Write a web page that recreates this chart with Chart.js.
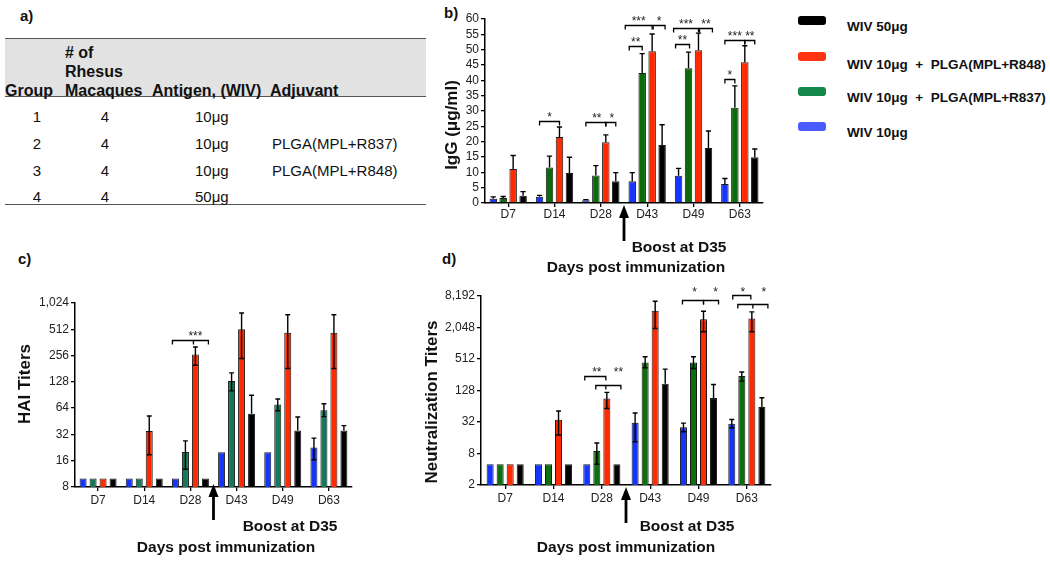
<!DOCTYPE html>
<html lang="en">
<head>
<meta charset="UTF-8" />
<title>WIV antibody responses in rhesus macaques</title>
<script src="https://cdn.jsdelivr.net/npm/chart.js"></script>
<style>
  body {
    margin: 0;
    width: 1050px;
    height: 563px;
    position: relative;
    overflow: hidden;
    background: #fff;
    font-family: 'Liberation Sans', Arial, sans-serif;
    color: #111;
  }
  .abs { position: absolute; white-space: pre; }
  .panel { position: absolute; font-weight: bold; font-size: 15px; }
  .th { font-weight: bold; font-size: 16px; line-height: 19px; }
  .td { font-size: 15px; line-height: 18px; }
  .rule { position: absolute; left: 5px; width: 421px; border-top: 1.5px solid #555; }
  .shade { position: absolute; left: 5px; top: 39px; width: 421px; height: 58px; background: #e2e2e2; }
  .swatch { position: absolute; left: 798px; width: 28px; height: 9px; border-radius: 3px; }
  .legtext { position: absolute; left: 847px; font-weight: bold; font-size: 13.5px; line-height: 16px; white-space: pre; }
  canvas { position: absolute; }
</style>
</head>
<body>
  <!-- panel letters -->
  <div class="panel" style="left:20px; top:7px;">a)</div>
  <div class="panel" style="left:444px; top:4px;">b)</div>
  <div class="panel" style="left:18px; top:250px;">c)</div>
  <div class="panel" style="left:442px; top:250px;">d)</div>

  <!-- a) table -->
  <div class="shade"></div>
  <div class="rule" style="top:38px;"></div>
  <div class="rule" style="top:96px;"></div>
  <div class="rule" style="top:204px;"></div>
  <div id="table"></div>

  <!-- legend -->
  <div id="legend"></div>

  <canvas id="iggChart" width="380" height="280" style="left:400px; top:0px;"></canvas>
  <canvas id="haiChart" width="380" height="283" style="left:0px; top:280px;"></canvas>
  <canvas id="neutChart" width="380" height="283" style="left:420px; top:280px;"></canvas>

<script>
  // ---- data ----
  const days = ['D7', 'D14', 'D28', 'D43', 'D49', 'D63'];
  const groups = ['WIV 10μg', 'WIV 10μg  +  PLGA(MPL+R837)', 'WIV 10μg  +  PLGA(MPL+R848)', 'WIV 50μg'];

  // table a)
  const tableGroup = ['1', '2', '3', '4'];
  const tableMacaques = ['4', '4', '4', '4'];
  const tableAntigen = ['10μg', '10μg', '10μg', '50μg'];
  const tableAdjuvant = ['', 'PLGA(MPL+R837)', 'PLGA(MPL+R848)', ''];

  // b) IgG (μg/ml), one row per group, one column per day
  const iggMean = [
    [1.4, 2.0, 0.9, 7.1, 8.9, 6.2],
    [1.6, 11.6, 9.0, 42.4, 43.9, 31.1],
    [11.1, 21.5, 19.8, 49.5, 49.8, 45.9],
    [2.4, 9.8, 7.1, 18.9, 17.9, 14.9]
  ];
  const iggHigh = [
    [2.0, 2.5, 1.1, 9.9, 11.3, 8.0],
    [2.1, 15.3, 12.2, 48.7, 49.2, 38.2],
    [15.5, 24.8, 22.2, 55.1, 55.4, 51.3],
    [3.7, 14.9, 9.9, 25.5, 23.5, 17.6]
  ];
  const iggTicks = [0, 5, 10, 15, 20, 25, 30, 35, 40, 45, 50, 55, 60];

  // c) HAI titers
  const haiMean = [
    [10, 10, 10, 20, 20, 22.7],
    [10, 10, 20.1, 131, 70.6, 60.4],
    [10, 35.1, 263, 512, 468, 468],
    [10, 10, 10, 55.3, 35.4, 35.4]
  ];
  const haiHigh = [
    [null, null, null, null, null, 29],
    [null, null, 27, 162, 81.4, 72],
    [null, 52, 321, 787, 750, 750],
    [null, null, null, 90, 50.7, 40.4]
  ];
  const haiLow = [
    [null, null, null, null, null, 16.4],
    [null, null, 12.8, 101, 59.8, 51.2],
    [null, 18.7, 198, 237, 182, 182],
    [null, null, null, null, null, null]
  ];
  const haiTicks = [8, 16, 32, 64, 128, 256, 512, 1024];

  // d) neutralization titers
  const neutMean = [
    [5, 5, 5, 31, 25.3, 29.6],
    [5, 5, 8.9, 440, 440, 241],
    [5, 35.4, 90.4, 4260, 2955, 3040],
    [5, 5, 5, 172, 91.6, 61.8]
  ];
  const neutHigh = [
    [null, null, null, 47.4, 30.5, 35.8],
    [null, null, 12.7, 564, 564, 288],
    [null, 51.8, 118, 6520, 4200, 4080],
    [null, null, null, 328, 167, 93]
  ];
  const neutLow = [
    [null, null, null, 13.4, 20.9, 24.9],
    [null, null, 5.0, 348, 338, 193],
    [null, 18.0, 58, 1963, 1697, 1697],
    [null, null, null, null, null, null]
  ];
  const neutTicks = [2, 8, 32, 128, 512, 2048, 8192];

  // significance: [day, from bar, to bar, middle tick bar, bracket value, stars, stars at bar, stars value]
  const iggSig = [
    [1, 0, 2, null, 26.6, '*', 1, null],
    [2, 0, 2, null, 26.4, '**', 1.1, null],
    [2, 2, 3, null, 26.4, '*', 2.6, null],
    [3, -0.3, 1, null, 51.1, '**', 0.35, null],
    [3, -0.7, 2, null, 57.9, '***', 0.65, null],
    [3, 2.1, 3.3, null, 57.9, '*', 2.7, null],
    [4, -0.3, 1.1, null, 51.8, '**', 0.4, null],
    [4, -0.5, 2, null, 57.1, '***', 0.75, null],
    [4, 2.1, 3.4, null, 57.1, '**', 2.75, null],
    [5, 0, 1, null, 40.5, '*', 0.5, null],
    [5, 0, 2, null, 53.3, '***', 1, null],
    [5, 2, 3, null, 53.3, '**', 2.5, null]
  ];
  const haiSig = [
    [2, -0.3, 3.3, 1.8, 383, '***', 2, null]
  ];
  const neutSig = [
    [2, -0.2, 1.9, null, 244, '**', 1, null],
    [2, 0.9, 3.4, 1.9, 162, '**', 3.15, 314],
    [4, -0.1, 2, null, 6800, '*', 1.1, 10580],
    [4, 2, 3.5, null, 6800, '*', 3.2, 10580],
    [5, 0.1, 1.9, null, 8480, '*', 1.1, 10580],
    [5, 0.6, 3.6, 2.1, 5710, '*', 3.2, 10580]
  ];

  // ---- table + legend ----
  const tbl = document.getElementById('table');
  function put(cls, text, left, centerY, lh, align) {
    const d = document.createElement('div');
    d.className = 'abs ' + cls;
    d.textContent = text;
    d.style.left = left + 'px';
    d.style.top = (centerY - lh / 2) + 'px';
    if (align === 'center') d.style.transform = 'translateX(-50%)';
    tbl.appendChild(d);
  }
  put('th', '# of', 65, 52, 19);
  put('th', 'Rhesus', 65, 71, 19);
  put('th', 'Group', 5, 90, 19);
  put('th', 'Macaques', 65, 90, 19);
  put('th', 'Antigen, (WIV)', 152, 90, 19);
  put('th', 'Adjuvant', 270, 90, 19);
  const rowY = [117, 144, 171, 197];
  tableGroup.forEach((g, i) => {
    put('td', g, 37, rowY[i], 18, 'center');
    put('td', tableMacaques[i], 105, rowY[i], 18, 'center');
    put('td', tableAntigen[i], 195, rowY[i], 18);
    put('td', tableAdjuvant[i], 272, rowY[i], 18);
  });

  const legendColors = ['#4a5cff', '#14884a', '#ff3311', '#000000'];
  const swatchY = [126.5, 91.5, 56.5, 20.5];
  const legTextY = [133, 98, 65, 27];
  const leg = document.getElementById('legend');
  groups.forEach((g, i) => {
    const s = document.createElement('div');
    s.className = 'swatch';
    s.style.top = (swatchY[i] - 4.5) + 'px';
    s.style.background = legendColors[i];
    leg.appendChild(s);
    const t = document.createElement('div');
    t.className = 'legtext';
    t.textContent = g;
    t.style.top = (legTextY[i] - 8) + 'px';
    leg.appendChild(t);
  });

  // ---- charts ----
  Chart.defaults.font.family = "'Liberation Sans', Arial, sans-serif";
  Chart.defaults.color = '#222';

  function makeDecor(cfg) {
    return {
      id: 'decor',
      afterDatasetsDraw(chart) {
        const ctx = chart.ctx, y = chart.scales.y;
        ctx.save();
        ctx.strokeStyle = '#000';
        ctx.lineWidth = 1.4;
        cfg.mean.forEach((row, i) => {
          const meta = chart.getDatasetMeta(i);
          row.forEach((v, j) => {
            const bar = meta.data[j];
            const c = bar.width * 0.35;
            const yv = y.getPixelForValue(v);
            const hi = cfg.high[i][j];
            const lo = cfg.low ? cfg.low[i][j] : null;
            ctx.beginPath();
            if (hi != null) {
              const yh = y.getPixelForValue(hi);
              ctx.moveTo(bar.x, yv); ctx.lineTo(bar.x, yh);
              ctx.moveTo(bar.x - c, yh); ctx.lineTo(bar.x + c, yh);
            }
            if (lo != null) {
              const yl = y.getPixelForValue(lo);
              ctx.moveTo(bar.x, yv); ctx.lineTo(bar.x, yl);
              ctx.moveTo(bar.x - c, yl); ctx.lineTo(bar.x + c, yl);
            }
            ctx.stroke();
          });
        });
        ctx.restore();
      },
      afterDraw(chart) {
        const ctx = chart.ctx, x = chart.scales.x, y = chart.scales.y, area = chart.chartArea;
        const L = cfg.layout;
        const bx = (cat, idx) => {
          const a = chart.getDatasetMeta(0).data[cat].x;
          const b = chart.getDatasetMeta(3).data[cat].x;
          return a + idx * (b - a) / 3;
        };
        ctx.save();
        // significance brackets
        ctx.strokeStyle = '#000';
        ctx.fillStyle = '#222';
        ctx.lineWidth = 1.3;
        ctx.font = '12px "Liberation Sans", Arial, sans-serif';
        ctx.textAlign = 'center';
        ctx.textBaseline = 'alphabetic';
        cfg.sig.forEach(([cat, from, to, mid, yv, text, at, ty]) => {
          const yp = Math.round(y.getPixelForValue(yv)) + 0.5;
          const x1 = bx(cat, from), x2 = bx(cat, to);
          ctx.beginPath();
          ctx.moveTo(x1, yp + 4); ctx.lineTo(x1, yp); ctx.lineTo(x2, yp); ctx.lineTo(x2, yp + 4);
          if (mid != null) {
            const xm = bx(cat, mid);
            ctx.moveTo(xm, yp); ctx.lineTo(xm, yp + 4);
          }
          ctx.stroke();
          const tyPx = ty == null ? yp - 1 : y.getPixelForValue(ty) + 6;
          ctx.fillText(text, bx(cat, at), tyPx);
        });

        // boost arrow between D28 and D43
        const ax = (x.getPixelForValue(2) + x.getPixelForValue(3)) / 2;
        const tip = area.bottom + L.arrowTip;
        ctx.fillStyle = '#000';
        ctx.beginPath();
        ctx.moveTo(ax, tip); ctx.lineTo(ax - 5, tip + 13); ctx.lineTo(ax + 5, tip + 13);
        ctx.closePath();
        ctx.fill();
        ctx.fillRect(ax - 1.4, tip + 12, 2.8, 24);

        // texts
        ctx.fillStyle = '#111';
        ctx.textBaseline = 'middle';
        ctx.font = 'bold 15.5px "Liberation Sans", Arial, sans-serif';
        ctx.fillText('Boost at D35', L.boost[0], L.boost[1]);
        ctx.fillText('Days post immunization', L.days[0], L.days[1]);
        ctx.font = 'bold 17px "Liberation Sans", Arial, sans-serif';
        ctx.translate(L.yTitle[0], L.yTitle[1]);
        ctx.rotate(-Math.PI / 2);
        ctx.fillText(cfg.yTitle, 0, 0);
        ctx.restore();
      }
    };
  }

  function makeChart(id, cfg) {
    return new Chart(document.getElementById(id), {
      type: 'bar',
      data: {
        labels: days,
        datasets: cfg.mean.map((vals, i) => ({
          label: groups[i],
          data: vals,
          backgroundColor: cfg.colors[i],
          borderColor: '#1a1a1a',
          borderWidth: 1,
          barPercentage: cfg.barPct,
          categoryPercentage: cfg.catPct
        }))
      },
      options: {
        responsive: false,
        animation: false,
        devicePixelRatio: 1,
        layout: { autoPadding: false, padding: cfg.pad },
        plugins: { legend: { display: false }, tooltip: { enabled: false } },
        scales: {
          x: {
            grid: { offset: false, drawOnChartArea: false, tickLength: 4, color: '#000', lineWidth: 1.3 },
            border: { color: '#000', width: 1.5 },
            ticks: { font: { size: 12 }, color: '#222', padding: cfg.xPad, autoSkip: false, maxRotation: 0 },
            afterFit: s => { s.height = 30; }
          },
          y: {
            type: cfg.yType,
            min: cfg.yTicks[0],
            max: cfg.yTicks[cfg.yTicks.length - 1],
            grid: { drawOnChartArea: false, tickLength: 4, color: '#000', lineWidth: 1.3 },
            border: { color: '#000', width: 1.5 },
            ticks: {
              font: { size: 12 }, color: '#222', padding: 2, autoSkip: false,
              callback: v => Number(v).toLocaleString('en-US')
            },
            afterBuildTicks: s => { s.ticks = cfg.yTicks.map(v => ({ value: v })); },
            afterFit: s => { s.width = cfg.yWidth; }
          }
        }
      },
      plugins: [makeDecor(cfg)]
    });
  }

  const iggChart = makeChart('iggChart', {
    mean: iggMean, high: iggHigh, low: null, sig: iggSig,
    colors: ['#1535ff', '#0b6b0b', '#ff2a00', '#000000'],
    yType: 'linear', yTicks: iggTicks, yTitle: 'IgG (μg/ml)',
    yWidth: 85, pad: { left: 0, right: 17, top: 19, bottom: 47 }, xPad: 0,
    barPct: 0.75, catPct: 0.86,
    layout: { arrowTip: 2, boost: [279, 248], days: [236, 268], yTitle: [52, 125] }
  });

  const haiChart = makeChart('haiChart', {
    mean: haiMean, high: haiHigh, low: haiLow, sig: haiSig,
    colors: ['#1535ff', '#16785a', '#ff2a00', '#000000'],
    yType: 'logarithmic', yTicks: haiTicks, yTitle: 'HAI Titers',
    yWidth: 75, pad: { left: 0, right: 28, top: 23, bottom: 46 }, xPad: 2,
    barPct: 0.7, catPct: 0.866,
    layout: { arrowTip: -3, boost: [290, 247], days: [226, 268], yTitle: [25, 104] }
  });

  const neutChart = makeChart('neutChart', {
    mean: neutMean, high: neutHigh, low: neutLow, sig: neutSig,
    colors: ['#1535ff', '#0e6e0e', '#ff2a00', '#000000'],
    yType: 'logarithmic', yTicks: neutTicks, yTitle: 'Neutralization Titers',
    yWidth: 61, pad: { left: 0, right: 29, top: 16, bottom: 48 }, xPad: 2,
    barPct: 0.7, catPct: 0.83,
    layout: { arrowTip: 2, boost: [267, 247], days: [206, 268], yTitle: [12, 122] }
  });
</script>
</body>
</html>
